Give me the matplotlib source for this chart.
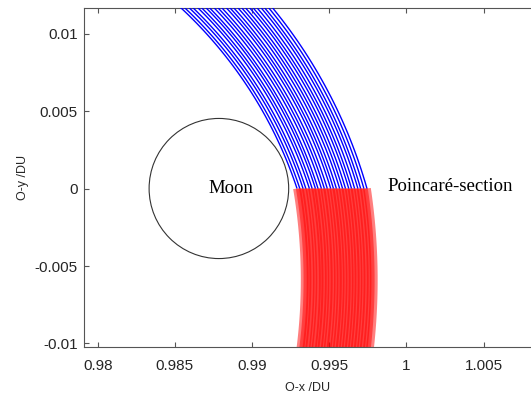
import matplotlib.pyplot as plt
from matplotlib.patches import PathPatch, Circle
from matplotlib.path import Path
from matplotlib.transforms import Affine2D
import numpy as np

plt.rcParams['font.family'] = ['Liberation Sans', 'DejaVu Sans']

# Poincare-section crossings (x at y = 0), DU
section_x = [0.99291, 0.99309, 0.99330, 0.99348, 0.99371, 0.99389, 0.99410, 0.99427,
             0.99449, 0.99468, 0.99487, 0.99509, 0.99527, 0.99546, 0.99567, 0.99586,
             0.99605, 0.99626, 0.99644, 0.99664, 0.99685, 0.99703, 0.99724, 0.99744]

# centres of curvature for both arc families
blue_center = (0.96640, -0.00885)
red_center = (0.95819, -0.00590)

moon_center = (0.98785, 0.0)
moon_radius = 0.00452

x_ticks = [0.98, 0.985, 0.99, 0.995, 1.0, 1.005]
x_ticklabels = ['0.98', '0.985', '0.99', '0.995', '1', '1.005']
y_ticks = [-0.01, -0.005, 0, 0.005, 0.01]
y_ticklabels = ['-0.01', '-0.005', '0', '0.005', '0.01']


def arc_patch(center, x0, t_other, **kw):
    # arc of the circle around center that passes through (x0, 0)
    r = np.hypot(x0 - center[0], center[1])
    th = np.degrees(np.arctan2(-center[1], x0 - center[0]))
    t1, t2 = sorted([th, t_other])
    p = Path.arc(t1, t2, n=24).transformed(Affine2D().scale(r).translate(*center))
    return PathPatch(p, fill=False, **kw)


fig = plt.figure(figsize=(5.31, 3.99), dpi=100)
ax = fig.add_axes([84/531, 52/399, 447/531, 339/399])

# forward (red) branch, below the section
for x0 in section_x:
    ax.add_patch(arc_patch(red_center, x0, -12, ec='#ff0000', lw=5.6, alpha=0.5,
                           capstyle='butt', zorder=2))

# backward (blue) branch, above the section
for x0 in section_x:
    ax.add_patch(arc_patch(blue_center, x0, 52, ec='#0000ff', lw=1.0,
                           capstyle='butt', zorder=3))

ax.add_patch(Circle(moon_center, moon_radius, fill=False, ec='#333333', lw=0.8, zorder=4))

ax.text(0.98860, 0.0, 'Moon', family='Liberation Serif', fontsize=13.5,
        ha='center', va='center', color='black')
ax.text(0.99877, 0.0001, 'Poincaré-section', family='Liberation Serif', fontsize=13.5,
        ha='left', va='center', color='black')

ax.set_xlim(0.979113, 1.008065)
ax.set_ylim(-0.010226, 0.011646)
ax.set_xticks(x_ticks)
ax.set_xticklabels(x_ticklabels)
ax.set_yticks(y_ticks)
ax.set_yticklabels(y_ticklabels)

for s in ['left', 'bottom', 'top']:
    ax.spines[s].set_color('#555555')
    ax.spines[s].set_linewidth(0.8)
ax.spines['right'].set_visible(False)

ax.tick_params(axis='x', direction='in', length=3.5, width=0.8, colors='#555555',
               labelcolor='#262626', labelsize=11, pad=9, top=True)
ax.tick_params(axis='y', direction='in', length=3.5, width=0.8, colors='#555555',
               labelcolor='#262626', labelsize=11, pad=4.5, right=False)

ax.set_xlabel('O-x /DU', fontsize=9, color='#262626', labelpad=6)
ax.set_ylabel('O-y /DU', fontsize=9, color='#262626', labelpad=4)

fig.savefig('out.png', dpi=100)
